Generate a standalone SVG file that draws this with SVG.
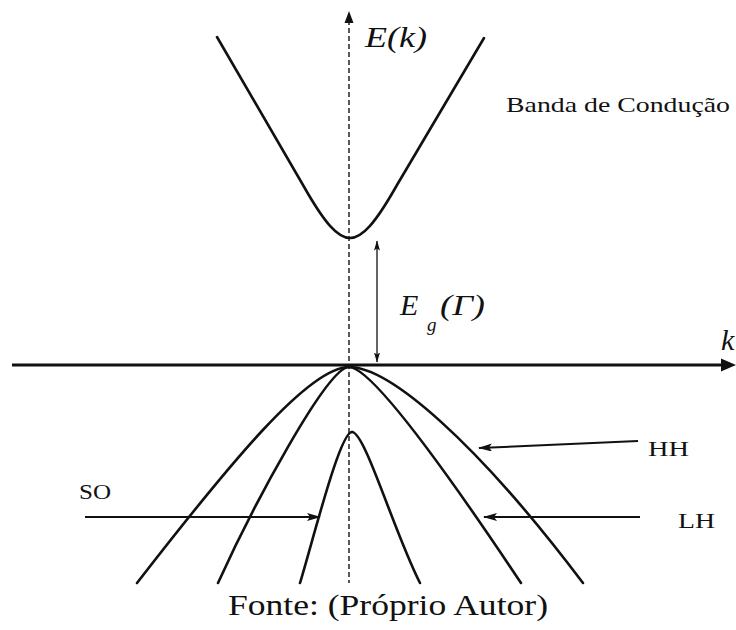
<svg xmlns="http://www.w3.org/2000/svg" width="736" height="630" viewBox="0 0 736 630">
<style>
.t{font-family:"Liberation Serif","Times New Roman",serif;fill:#111}
.it{font-style:italic}
.band{fill:none;stroke:#111;stroke-width:2.6;stroke-linecap:round}
.ptr{fill:none;stroke:#111;stroke-width:2}
</style>
<defs>
<marker id="ah" viewBox="0 0 14 8" markerWidth="14" markerHeight="8" refX="13" refY="4" orient="auto" markerUnits="userSpaceOnUse">
<path d="M0,0 L14,4 L0,8 L3,4 z" fill="#111"/>
</marker>
<marker id="eg" viewBox="0 0 10 6" markerWidth="10" markerHeight="6" refX="9.5" refY="3" orient="auto-start-reverse" markerUnits="userSpaceOnUse">
<path d="M0,0 L10,3 L0,6 L2,3 z" fill="#111"/>
</marker>
</defs>
<rect width="736" height="630" fill="#fff"/>
<g id="axes">
<line x1="349" y1="20" x2="349" y2="583" stroke="#222" stroke-width="1.5" stroke-dasharray="5 3"/>
<path d="M349,11 L353.5,23 L344.5,23 z" fill="#111"/>
<line x1="12" y1="365" x2="724" y2="365" stroke="#111" stroke-width="3"/>
<path d="M736,365 L721,358.5 L721,371.5 z" fill="#111"/>
</g>
<g id="conduction">
<path class="band" d="M217,37 L303,185 C325,224 338,238 350,238 C362,238 375,224 397,185 L484,38"/>
</g>
<g id="valence">
<path class="band" d="M349,367 C389,367 475,440 583,583"/>
<path class="band" d="M349,367 C309,367 230,463 137,583"/>
<path class="band" d="M349,367 C374,367 461,493 521,583"/>
<path class="band" d="M349,367 C327,367 252,508 218,583"/>
<path class="band" d="M352,432 C340,432 315,533 300,583"/>
<path class="band" d="M352,432 C365,432 394,532 420,583"/>
</g>
<g id="connectors">
<line x1="377" y1="241" x2="377" y2="362" stroke="#111" stroke-width="1.3" marker-start="url(#eg)" marker-end="url(#eg)"/>
<line class="ptr" x1="638" y1="441" x2="479" y2="448" marker-end="url(#ah)"/>
<line class="ptr" x1="640" y1="517" x2="484" y2="517" marker-end="url(#ah)"/>
<line class="ptr" x1="85" y1="517" x2="320" y2="517" marker-end="url(#ah)"/>
</g>
<g id="labels" font-family="Liberation Serif, Times New Roman, serif">
<text class="t it" x="365" y="47" font-size="29" textLength="62" lengthAdjust="spacingAndGlyphs">E(k)</text>
<text class="t" x="506" y="112" font-size="21" textLength="224" lengthAdjust="spacingAndGlyphs">Banda de Condução</text>
<text class="t it" x="400" y="315" font-size="30">E</text>
<text class="t it" x="427" y="331" font-size="19">g</text>
<text class="t it" x="440" y="315" font-size="30" textLength="45" lengthAdjust="spacingAndGlyphs">(Γ)</text>
<text class="t it" x="721" y="350" font-size="30">k</text>
<text class="t" x="648" y="456" font-size="22" textLength="41" lengthAdjust="spacingAndGlyphs">HH</text>
<text class="t" x="678" y="528" font-size="22" textLength="37" lengthAdjust="spacingAndGlyphs">LH</text>
<text class="t" x="79" y="499" font-size="22" textLength="32" lengthAdjust="spacingAndGlyphs">SO</text>
<text class="t" x="228" y="615" font-size="30" textLength="320" lengthAdjust="spacingAndGlyphs">Fonte: (Próprio Autor)</text>
</g>
</svg>
